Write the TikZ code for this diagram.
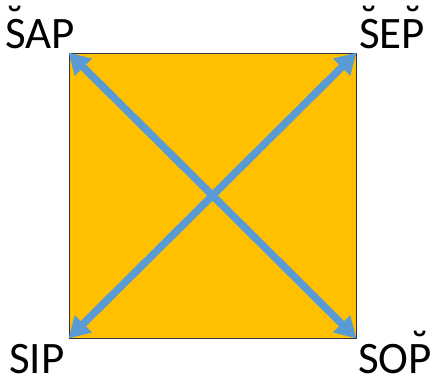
\documentclass[tikz,border=0pt]{standalone}
\usepackage{fontspec}
\setmainfont{Carlito}
\usetikzlibrary{arrows.meta}
\definecolor{boxorange}{HTML}{FFC000}
\definecolor{arrowblue}{HTML}{5B9BD5}
% letter with a breve above it
\newcommand\brv[1]{{\ooalign{#1\cr\hidewidth\raisebox{0.25em}{\char"02D8}\hidewidth\cr}}}
\begin{document}
\begin{tikzpicture}[x=1pt, y=-1pt,
  square/.style={draw=black!80, fill=boxorange, line width=1pt,
    minimum width=287pt, minimum height=285pt, inner sep=0pt},
  diag/.style={draw=arrowblue, line width=7.5pt,
    {Triangle[length=21pt,width=23pt]}-{Triangle[length=21pt,width=23pt]}},
  corner/.style={font=\fontsize{45}{54}\selectfont, inner sep=0pt}]
\useasboundingbox (0,0) rectangle (436,383);
% the box
\node[square] (sq) at (212.5,195.5) {};
% diagonals
\draw[diag] (sq.north west) -- (sq.south east);
\draw[diag] (sq.south west) -- (sq.north east);
% corner labels
\node[corner, anchor=base west] (sap) at (5,48)   {\brv{S}AP};
\node[corner, anchor=base west] (sep) at (359,48) {\brv{S}E\brv{P}};
\node[corner, anchor=base west] (sip) at (9,373)  {SIP};
\node[corner, anchor=base west] (sop) at (358,373) {SO\brv{P}};
\end{tikzpicture}
\end{document}
